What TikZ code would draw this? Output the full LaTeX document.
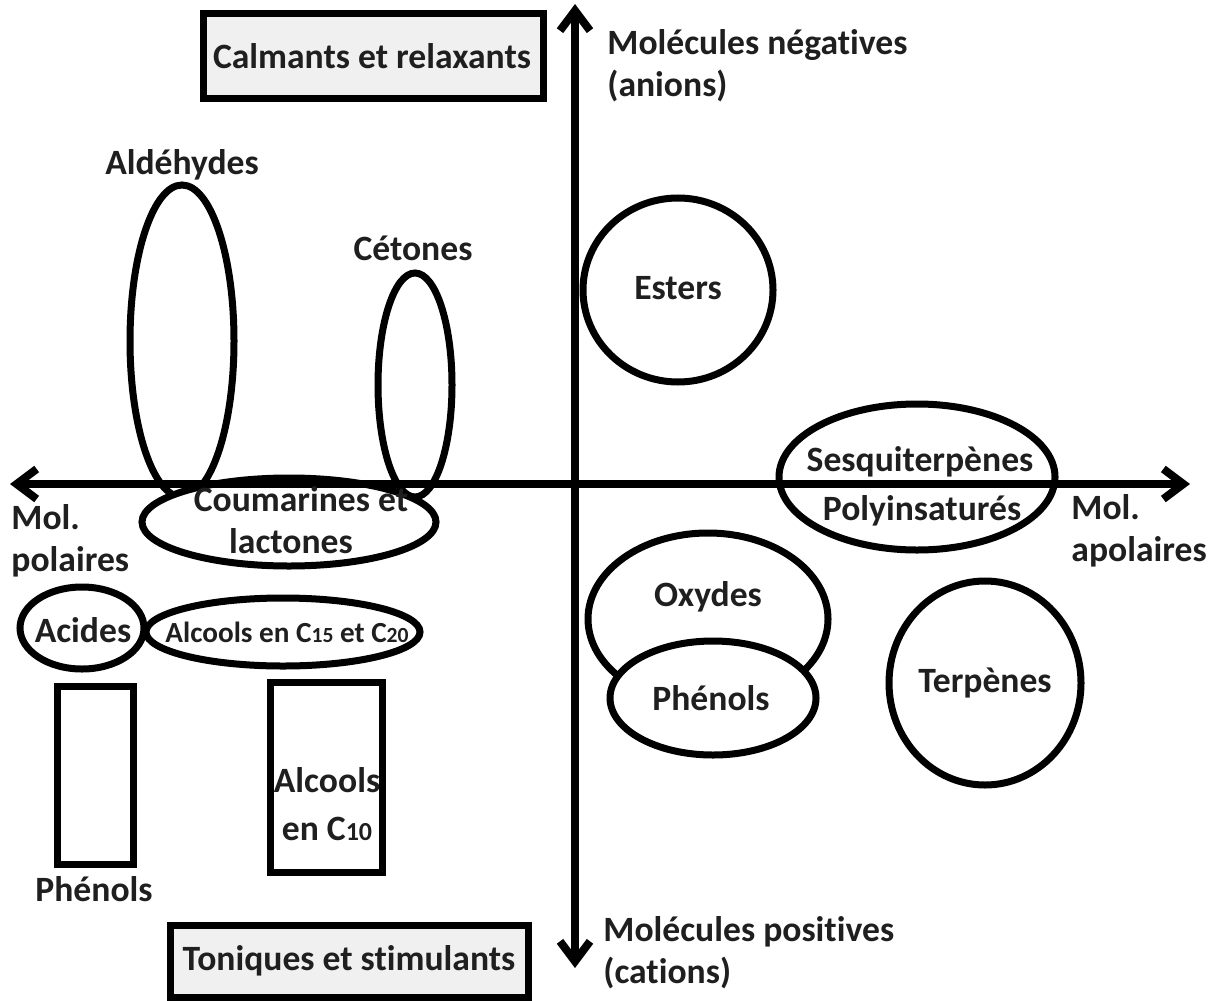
\documentclass[tikz,border=0pt]{standalone}
\usepackage{fontspec}
\setmainfont{Carlito}[Ligatures=NoCommon]
\usetikzlibrary{shapes.geometric,arrows.meta}
\newcommand{\smalldig}[1]{{\fontsize{13}{15}\selectfont #1}}
\newcommand{\smalldigb}[1]{{\fontsize{10.8}{13}\selectfont #1}}
\begin{document}
\begin{tikzpicture}[x=0.5pt,y=-0.5pt,
  lbl/.style={font=\bfseries\fontsize{17.8}{21}\selectfont, text=black!88, align=center, inner sep=0},
  lbll/.style={lbl, align=left, anchor=west},
  oval/.style={ellipse, draw, line width=3.5pt, inner sep=0},
  box/.style={rectangle, draw, line width=3.5pt, inner sep=0},
  axis/.style={line width=4pt, {Straight Barb[length=10pt,width=15pt]}-{Straight Barb[length=10pt,width=15pt]}}
]
\useasboundingbox (0,0) rectangle (1218,1000);
\fill[white] (0,0) rectangle (1218,1000);

% ovals
\node[oval, minimum width=52pt, minimum height=156pt] (ald) at (182,341) {};
\node[oval, minimum width=37pt, minimum height=112pt] (cet) at (415,385) {};
\node[oval, fill=white, minimum width=147pt, minimum height=44pt] (cou) at (289,522) {};
\node[oval, minimum width=95pt, minimum height=92pt] (est) at (678,290) {};
\node[oval, minimum width=138pt, minimum height=73pt] (ses) at (917,477) {};
\node[oval, minimum width=120pt, minimum height=86pt] (oxy) at (708,619) {};
\node[oval, fill=white, minimum width=103pt, minimum height=57pt] (phe) at (713,698) {};
\node[oval, minimum width=96pt, minimum height=102pt] (ter) at (985,683) {};
\node[oval, minimum width=62pt, minimum height=41pt] (aci) at (82,628) {};
\node[oval, minimum width=137pt, minimum height=34pt] (alc) at (283,632) {};

% rectangles
\node[box, minimum width=38pt, minimum height=89pt] (phrect) at (95,775) {};
\node[box, minimum width=56pt, minimum height=95pt] (alcrect) at (326,777) {};
\node[box, fill=black!6, minimum width=170pt, minimum height=42.5pt] (calm) at (373,56.5) {};
\node[box, fill=black!6, minimum width=179pt, minimum height=36pt] (toni) at (349,961) {};

% axes
\coordinate (axL) at (10,484);
\coordinate (axR) at (1190,484);
\coordinate (axT) at (575,4);
\coordinate (axB) at (575,968);
\draw[axis] (axL) -- (axR);
\draw[axis] (axB) -- (axT);

% labels
\node[lbl] (tcalm) at (372,56) {Calmants et relaxants};
\node[lbl] (ttoni) at (349,961) {Toniques et stimulants};
\node[lbl] (tald) at (182,165) {Aldéhydes};
\node[lbl] (tcet) at (413,248) {Cétones};
\node[lbl] (test) at (678,288) {Esters};
\node[lbl] (tses) at (920,462) {Sesquiterpènes};
\node[lbl] (tpol) at (922,511) {Polyinsaturés};
\node[lbl] (toxy) at (708,597) {Oxydes};
\node[lbl] (tphe) at (711,698) {Phénols};
\node[lbl] (tter) at (985,683) {Terpènes};
\node[lbl] (taci) at (83,630) {Acides};
\node[lbl, font=\bfseries\fontsize{14.6}{17}\selectfont] (talc) at (287,632) {Alcools en C\smalldigb{15} et C\smalldigb{20}};
\node[lbl] (tcou) at (291,520) {\hspace*{10pt}Coumarines et\\lactones};
\node[lbl] (tphr) at (94,889) {Phénols};
\node[lbl, font=\bfseries\fontsize{17.8}{24}\selectfont] (talr) at (327,804) {Alcools\\en C\smalldig{10}};
\node[lbll] (tneg) at (607,66) {Molécules négatives\\(anions)};
\node[lbll] (tpos) at (603,953) {Molécules positives\\(cations)};
\node[lbll] (tpola) at (11,541) {Mol.\\polaires};
\node[lbll] (tapol) at (1071,531) {Mol.\\apolaires};
\end{tikzpicture}
\end{document}
